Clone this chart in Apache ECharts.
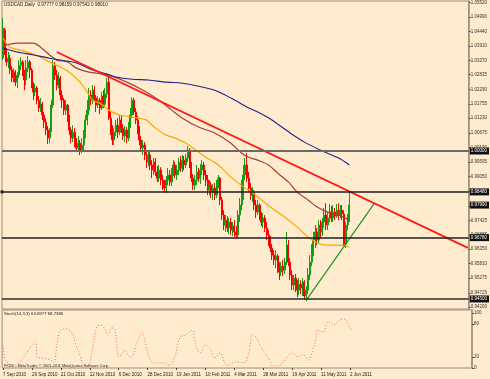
<!DOCTYPE html>
<html><head><meta charset="utf-8">
<script src="https://cdn.jsdelivr.net/npm/echarts@6/dist/echarts.min.js"></script>
<style>html,body{margin:0;padding:0;background:#FFEBCD}#c{width:490px;height:379px}</style>
</head><body><div id="c"></div><script>
// ---- data ----
const titleText = 'USDCAD,Daily  0.97777 0.98159 0.97542 0.98010';
const stochText = 'Stoch(14,3,3) 63.6977 68.7386';
const copyText = 'FXDD - MetaTrader, \u00A9 2001-2011 MetaQuotes Software Corp.';
const dateTicks = ['7 Sep 2010','29 Sep 2010','21 Oct 2010','12 Nov 2010','6 Dec 2010','28 Dec 2010','19 Jan 2011','10 Feb 2011','4 Mar 2011','28 Mar 2011','19 Apr 2011','11 May 2011','2 Jun 2011'];
const priceTicks = [0.94200,0.94725,0.95275,0.95810,0.96350,0.96885,0.97425,0.97960,0.98500,0.99050,0.99595,1.00130,1.00675,1.01230,1.01755,1.02290,1.02835,1.03370,1.03910,1.04440,1.04990,1.05520];
const stochTicks = [0,20,80,100];
const openP = [1.0345,1.0450,1.0375,1.0331,1.0345,1.0301,1.0271,1.0293,1.0256,1.0282,
1.0319,1.0331,1.0293,1.0264,1.0308,1.0331,1.0301,1.0245,1.0219,1.0234,
1.0189,1.0160,1.0174,1.0134,1.0108,1.0078,1.0048,1.0078,1.0171,1.0316,
1.0282,1.0245,1.0271,1.0208,1.0189,1.0152,1.0171,1.0122,1.0078,1.0048,
1.0070,1.0033,1.0011,1.0029,1.0003,1.0022,1.0059,1.0115,1.0152,1.0208,
1.0189,1.0226,1.0197,1.0171,1.0189,1.0160,1.0204,1.0174,1.0212,1.0256,
1.0122,1.0085,1.0041,1.0070,1.0096,1.0070,1.0115,1.0085,1.0056,1.0078,
1.0048,1.0096,1.0134,1.0189,1.0145,1.0115,1.0078,1.0041,1.0011,1.0022,
0.9985,0.9959,0.9985,0.9948,0.9929,0.9959,0.9922,0.9899,0.9929,0.9892,
0.9873,0.9862,0.9892,0.9911,0.9885,0.9922,0.9948,0.9911,0.9929,0.9959,
0.9937,0.9966,0.9948,0.9974,1.0003,0.9948,0.9899,0.9873,0.9892,0.9922,
0.9899,0.9929,0.9948,0.9911,0.9892,0.9855,0.9873,0.9847,0.9862,0.9836,
0.9873,0.9899,0.9818,0.9762,0.9725,0.9743,0.9714,0.9736,0.9706,0.9721,
0.9699,0.9688,0.9762,0.9799,0.9836,0.9911,0.9948,0.9899,0.9862,0.9836,
0.9847,0.9799,0.9773,0.9799,0.9762,0.9736,0.9751,0.9714,0.9688,0.9662,
0.9639,0.9613,0.9595,0.9610,0.9565,0.9550,0.9572,0.9557,0.9587,0.9650,
0.9587,0.9539,0.9502,0.9528,0.9502,0.9483,0.9505,0.9491,0.9513,0.9461,
0.9483,0.9539,0.9587,0.9632,0.9669,0.9699,0.9669,0.9725,0.9699,0.9736,
0.9762,0.9725,0.9751,0.9773,0.9751,0.9773,0.9758,0.9780,0.9762,0.9780,
0.9766,0.9654,0.9725,0.9751];
const closeP = [1.0457,1.0375,1.0331,1.0345,1.0301,1.0271,1.0293,1.0256,1.0282,1.0319,
1.0331,1.0293,1.0264,1.0308,1.0331,1.0301,1.0245,1.0219,1.0234,1.0189,
1.0160,1.0174,1.0134,1.0108,1.0078,1.0048,1.0078,1.0171,1.0316,1.0282,
1.0245,1.0271,1.0208,1.0189,1.0152,1.0171,1.0122,1.0078,1.0048,1.0070,
1.0033,1.0011,1.0029,1.0003,1.0022,1.0059,1.0115,1.0152,1.0208,1.0189,
1.0226,1.0197,1.0171,1.0189,1.0160,1.0204,1.0174,1.0212,1.0256,1.0122,
1.0085,1.0041,1.0070,1.0096,1.0070,1.0115,1.0085,1.0056,1.0078,1.0048,
1.0096,1.0134,1.0189,1.0145,1.0115,1.0078,1.0041,1.0011,1.0022,0.9985,
0.9959,0.9985,0.9948,0.9929,0.9959,0.9922,0.9899,0.9929,0.9892,0.9873,
0.9862,0.9892,0.9911,0.9885,0.9922,0.9948,0.9911,0.9929,0.9959,0.9937,
0.9966,0.9948,0.9974,1.0003,0.9948,0.9899,0.9873,0.9892,0.9922,0.9899,
0.9929,0.9948,0.9911,0.9892,0.9855,0.9873,0.9847,0.9862,0.9836,0.9873,
0.9899,0.9818,0.9762,0.9725,0.9743,0.9714,0.9736,0.9706,0.9721,0.9699,
0.9688,0.9762,0.9799,0.9836,0.9911,0.9948,0.9899,0.9862,0.9836,0.9847,
0.9799,0.9773,0.9799,0.9762,0.9736,0.9751,0.9714,0.9688,0.9662,0.9639,
0.9613,0.9595,0.9610,0.9565,0.9550,0.9572,0.9557,0.9587,0.9650,0.9587,
0.9539,0.9502,0.9528,0.9502,0.9483,0.9505,0.9491,0.9513,0.9461,0.9483,
0.9539,0.9587,0.9632,0.9669,0.9699,0.9669,0.9725,0.9699,0.9736,0.9762,
0.9725,0.9751,0.9773,0.9751,0.9773,0.9758,0.9780,0.9762,0.9780,0.9766,
0.9654,0.9725,0.9751,0.9799];
const lowP = [1.0338,1.0357,1.0316,1.0308,1.0286,1.0256,1.0256,1.0241,1.0234,1.0271,
1.0301,1.0279,1.0226,1.0245,1.0293,1.0271,1.0234,1.0189,1.0204,1.0174,
1.0145,1.0145,1.0115,1.0085,1.0059,1.0026,1.0029,1.0070,1.0160,1.0264,
1.0226,1.0234,1.0189,1.0160,1.0134,1.0134,1.0108,1.0059,1.0029,1.0033,
1.0015,0.9996,1.0003,0.9985,0.9992,1.0003,1.0048,1.0096,1.0134,1.0171,
1.0174,1.0182,1.0145,1.0160,1.0137,1.0152,1.0160,1.0167,1.0197,1.0115,
1.0059,1.0022,1.0022,1.0056,1.0048,1.0059,1.0067,1.0041,1.0033,1.0029,
1.0037,1.0085,1.0122,1.0134,1.0100,1.0063,1.0022,0.9996,0.9985,0.9966,
0.9937,0.9944,0.9929,0.9899,0.9911,0.9907,0.9885,0.9885,0.9873,0.9855,
0.9844,0.9844,0.9873,0.9870,0.9870,0.9907,0.9899,0.9892,0.9911,0.9922,
0.9922,0.9929,0.9937,0.9959,0.9937,0.9885,0.9855,0.9855,0.9873,0.9885,
0.9877,0.9911,0.9892,0.9870,0.9836,0.9836,0.9825,0.9818,0.9818,0.9825,
0.9862,0.9799,0.9743,0.9706,0.9699,0.9699,0.9691,0.9688,0.9684,0.9680,
0.9673,0.9677,0.9736,0.9780,0.9818,0.9892,0.9885,0.9847,0.9818,0.9810,
0.9780,0.9751,0.9762,0.9743,0.9721,0.9714,0.9699,0.9669,0.9647,0.9624,
0.9595,0.9576,0.9565,0.9546,0.9520,0.9535,0.9535,0.9543,0.9576,0.9572,
0.9520,0.9483,0.9483,0.9476,0.9457,0.9465,0.9468,0.9461,0.9446,0.9442,
0.9468,0.9520,0.9572,0.9610,0.9639,0.9650,0.9654,0.9677,0.9684,0.9714,
0.9706,0.9706,0.9736,0.9736,0.9736,0.9743,0.9751,0.9743,0.9751,0.9743,
0.9647,0.9639,0.9706,0.9736];
const highP = [1.0494,1.0457,1.0383,1.0368,1.0357,1.0316,1.0308,1.0301,1.0293,1.0338,
1.0349,1.0338,1.0301,1.0338,1.0353,1.0338,1.0308,1.0256,1.0249,1.0241,
1.0204,1.0197,1.0182,1.0145,1.0122,1.0093,1.0085,1.0189,1.0338,1.0331,
1.0301,1.0293,1.0279,1.0226,1.0197,1.0189,1.0174,1.0134,1.0089,1.0096,
1.0085,1.0048,1.0056,1.0041,1.0048,1.0078,1.0134,1.0189,1.0234,1.0226,
1.0245,1.0241,1.0208,1.0204,1.0197,1.0219,1.0226,1.0234,1.0271,1.0275,
1.0145,1.0096,1.0085,1.0115,1.0122,1.0134,1.0130,1.0100,1.0093,1.0089,
1.0108,1.0160,1.0200,1.0197,1.0160,1.0130,1.0093,1.0056,1.0041,1.0033,
1.0003,1.0003,0.9996,0.9966,0.9974,0.9974,0.9944,0.9948,0.9940,0.9911,
0.9892,0.9907,0.9937,0.9929,0.9937,0.9966,0.9959,0.9948,0.9974,0.9981,
0.9985,0.9981,0.9989,1.0018,1.0011,0.9959,0.9914,0.9911,0.9948,0.9937,
0.9951,0.9966,0.9959,0.9929,0.9911,0.9892,0.9885,0.9877,0.9881,0.9892,
0.9911,0.9903,0.9829,0.9780,0.9762,0.9758,0.9751,0.9751,0.9736,0.9743,
0.9721,0.9780,0.9825,0.9892,0.9948,0.9974,0.9992,0.9922,0.9881,0.9866,
0.9855,0.9818,0.9818,0.9806,0.9773,0.9769,0.9762,0.9736,0.9706,0.9684,
0.9654,0.9632,0.9632,0.9617,0.9587,0.9587,0.9595,0.9602,0.9699,0.9669,
0.9602,0.9557,0.9539,0.9543,0.9520,0.9528,0.9520,0.9528,0.9520,0.9498,
0.9565,0.9613,0.9654,0.9699,0.9725,0.9714,0.9743,0.9743,0.9751,0.9788,
0.9806,0.9773,0.9803,0.9795,0.9799,0.9788,0.9803,0.9806,0.9799,0.9799,
0.9780,0.9736,0.9766,0.9847];
// moving averages, [bar index, price]
const maOrange = [[0,1.0420],[4,1.0386],[10,1.0375],[15,1.0364],[21,1.0349],[26,1.0331],[32,1.0312],[37,1.0293],[43,1.0256],[47,1.0219],[50,1.0189],[54,1.0178],[59,1.0152],[65,1.0134],[72,1.0126],[78,1.0119],[80,1.0115],[85,1.0085],[91,1.0059],[96,1.0048],[102,1.0029],[109,0.9996],[113,0.9977],[120,0.9948],[127,0.9903],[135,0.9862],[137,0.9855],[142,0.9829],[149,0.9792],[157,0.9754],[164,0.9717],[170,0.9680],[175,0.9658],[181,0.9650],[187,0.9650],[193,0.9643]];
const maBrown = [[0,1.0386],[2,1.0394],[8,1.0401],[17,1.0401],[21,1.0386],[26,1.0357],[30,1.0338],[36,1.0331],[41,1.0308],[48,1.0293],[59,1.0282],[69,1.0256],[78,1.0226],[87,1.0189],[94,1.0152],[100,1.0122],[109,1.0089],[118,1.0067],[127,1.0029],[133,0.9992],[137,0.9977],[142,0.9966],[148,0.9948],[153,0.9918],[159,0.9885],[164,0.9847],[170,0.9818],[175,0.9792],[181,0.9773],[187,0.9762],[193,0.9743]];
const maBlue = [[0,1.0383],[8,1.0368],[17,1.0357],[26,1.0345],[36,1.0334],[41,1.0327],[50,1.0301],[58,1.0286],[63,1.0275],[72,1.0267],[81,1.0264],[91,1.0256],[100,1.0252],[109,1.0241],[118,1.0226],[127,1.0197],[137,1.0160],[142,1.0145],[149,1.0119],[160,1.0067],[168,1.0033],[177,1.0003],[187,0.9974],[193,0.9948]];
const trendDown = [[30,1.0368],[259,0.9640]];
const trendUp = [[169,0.9446],[207,0.9806]];
const levels = [1.0000, 0.9848, 0.9678, 0.9450];
const stoch = [[0,42],[1,18],[3,9],[6,5],[9,11],[13,27],[16,42],[18,47],[19,20],[22,18],[26,15],[28,11],[30,45],[32,69],[35,71],[38,65],[40,45],[43,20],[44,9],[47,5],[49,27],[52,75],[54,78],[56,73],[58,60],[60,73],[62,69],[64,20],[66,27],[67,33],[69,24],[71,20],[74,45],[77,64],[79,42],[81,18],[84,9],[89,9],[92,5],[95,20],[98,56],[101,60],[105,69],[106,51],[109,27],[112,42],[115,33],[117,18],[120,27],[124,5],[127,9],[130,11],[133,9],[136,27],[138,60],[140,56],[142,42],[145,27],[148,11],[149,4],[153,5],[156,15],[159,27],[160,29],[163,20],[166,24],[169,15],[171,29],[173,51],[174,69],[177,65],[180,84],[183,78],[185,84],[188,89],[190,87],[192,73],[193,69]];

// ---- build ----
const SLOTS = 260;
const cats = [];
for (let i = 0; i < SLOTS; i++) cats.push(String(i));
const candles = openP.map((o, i) => [o, closeP[i], lowP[i], highP[i]]);
const FRAME = '#9c8e7a';
const FONT = 'Liberation Sans';
const showDate = (idx) => idx % 16 === 0 && idx / 16 < dateTicks.length;

const lvlStyles = [
  {color:'#6a6a6a', width:2, type:'solid'},
  {color:'#1e1e1e', width:1.5, type:'solid'},
  {color:'#1e1e1e', width:1.5, type:'solid'},
  {color:'#2a2a2a', width:1.5, type:'solid'}
];
const lvlData = levels.map((v, k) => {
  const d = {yAxis: v, lineStyle: lvlStyles[k]};
  if (k === 1) { d.symbol = ['emptyRect','emptyRect']; d.symbolSize = 3; }
  return d;
});
lvlData.push({yAxis: closeP[closeP.length-1], lineStyle:{color:'rgba(0,0,0,0)', width:0, type:'solid'}});

const chart = echarts.init(document.getElementById('c'), null, {renderer:'canvas'});
chart.setOption({
  backgroundColor: '#FFEBCD',
  animation: false,
  textStyle: {fontFamily: FONT},
  graphic: [
    {type:'text', left:4, top:2, style:{text:titleText, fontSize:4.6, fill:'#222', fontFamily:FONT}},
    {type:'text', left:4, top:312, style:{text:stochText, fontSize:4.3, fill:'#222', fontFamily:FONT}},
    {type:'text', left:4, top:364, style:{text:copyText, fontSize:3.8, fill:'#222', fontFamily:FONT}}
  ],
  grid: [
    {left:2, top:1, width:470, height:308, show:true, borderColor:FRAME, borderWidth:1},
    {left:2, top:310, width:470, height:58, show:true, borderColor:FRAME, borderWidth:1}
  ],
  xAxis: [
    {type:'category', data:cats, gridIndex:0, boundaryGap:true,
     axisLine:{show:false}, axisTick:{show:false}, axisLabel:{show:false}, splitLine:{show:false}},
    {type:'category', data:cats, gridIndex:1, boundaryGap:true,
     axisLine:{show:false},
     axisTick:{show:true, alignWithLabel:true, interval:(i)=>showDate(i), length:2, lineStyle:{color:'#444'}},
     axisLabel:{show:true, interval:(i)=>showDate(i), formatter:(v, i)=>dateTicks[i/16], align:'left',
                fontSize:4.5, color:'#222', margin:4, fontFamily:FONT},
     splitLine:{show:false}}
  ],
  yAxis: [
    {type:'value', gridIndex:0, position:'right', min:0.94127, max:1.05576,
     axisLine:{show:true, lineStyle:{color:FRAME, width:1.5}},
     axisTick:{show:true, customValues:priceTicks, length:2, lineStyle:{color:'#555'}},
     axisLabel:{customValues:priceTicks, formatter:(v)=>v.toFixed(5), fontSize:4.5, color:'#333', margin:2, fontFamily:FONT},
     splitLine:{show:false}},
    {type:'value', gridIndex:1, position:'right', min:0, max:105.45,
     axisLine:{show:true, lineStyle:{color:FRAME, width:1.5}},
     axisTick:{show:true, customValues:stochTicks, length:2, lineStyle:{color:'#555'}},
     axisLabel:{customValues:stochTicks, formatter:(v)=>String(v), fontSize:4.5, color:'#333', margin:2, fontFamily:FONT},
     splitLine:{show:false}}
  ],
  series: [
    {type:'candlestick', xAxisIndex:0, yAxisIndex:0, data:candles, barWidth:1.5,
     itemStyle:{color:'#12a012', color0:'#ff0000', borderColor:'#12a012', borderColor0:'#ff0000', borderWidth:1},
     markLine:{silent:true, symbol:'none', precision:5,
       label:{show:true, position:'end', distance:1, formatter:(p)=>p.value.toFixed(5),
              backgroundColor:'#111', color:'#fff', fontSize:4.5, padding:[1,2,1,1], fontFamily:FONT},
       data: lvlData}},
    {type:'line', xAxisIndex:0, yAxisIndex:0, data:maOrange, symbol:'none', smooth:0.3, lineStyle:{color:'#ffa500', width:1.2}},
    {type:'line', xAxisIndex:0, yAxisIndex:0, data:maBrown, symbol:'none', smooth:0.3, lineStyle:{color:'#a0403a', width:1.2}},
    {type:'line', xAxisIndex:0, yAxisIndex:0, data:maBlue, symbol:'none', smooth:0.3, lineStyle:{color:'#22228a', width:1.1}},
    {type:'line', xAxisIndex:0, yAxisIndex:0, data:trendDown, symbol:'none', lineStyle:{color:'#ff1a1a', width:1.8}},
    {type:'line', xAxisIndex:0, yAxisIndex:0, data:trendUp, symbol:'none', lineStyle:{color:'#1f951f', width:1.2}},
    {type:'line', xAxisIndex:1, yAxisIndex:1, data:stoch, symbol:'none', smooth:0.4,
     lineStyle:{color:'#f26b6b', width:1, type:[1,2]}}
  ]
});
</script></body></html>
